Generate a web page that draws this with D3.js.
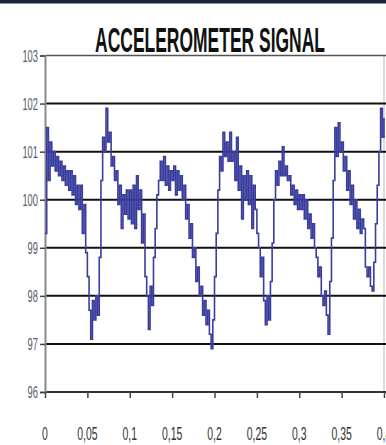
<!DOCTYPE html>
<html>
<head>
<meta charset="utf-8">
<script src="https://cdn.jsdelivr.net/npm/d3@7"></script>
<style>
  html, body { margin: 0; padding: 0; background: #fff; overflow: hidden; }
  svg { display: block; }
</style>
</head>
<body>
<svg id="chart"></svg>
<script>
// accelerometer samples, one every 2 ms from t = 0 to t = 0.4 s
const SAMPLE_DT = 0.002;
const signal = [
  99.3, 101.5, 100.4, 101.2, 100.7, 101.0, 100.6, 100.9, 100.5, 100.8,
  100.4, 100.7, 100.3, 100.6, 100.2, 100.6, 100.1, 100.5, 99.9, 100.3,
  99.8, 100.3, 99.3, 99.9, 98.9, 98.4, 97.7, 97.1, 97.9, 97.5,
  98.0, 97.6, 98.8, 100.4, 101.3, 101.0, 101.9, 101.2, 101.4, 100.7,
  100.9, 100.4, 100.6, 99.9, 100.3, 99.4, 100.1, 99.7, 100.2, 99.6,
  100.2, 99.5, 100.3, 99.4, 100.5, 99.8, 100.2, 99.1, 99.7, 98.4,
  98.0, 97.3, 98.2, 97.8, 98.8, 99.4, 100.1, 100.4, 100.8, 100.4,
  100.9, 100.3, 100.7, 100.2, 100.6, 100.4, 100.7, 100.1, 100.6, 100.2,
  100.5, 100.0, 100.3, 99.6, 99.9, 99.2, 99.5, 98.8, 99.0, 98.3,
  98.6, 98.0, 98.2, 97.6, 97.9, 97.4, 97.7, 97.2, 96.9, 97.5,
  98.4, 99.3, 100.2, 100.9, 100.6, 101.4, 100.9, 101.2, 100.8, 101.4,
  100.8, 101.0, 100.4, 101.3, 100.2, 100.7, 99.6, 100.5, 100.0, 100.6,
  99.9, 100.5, 99.4, 100.3, 99.8, 99.3, 99.0, 98.4, 98.8, 97.9,
  97.4, 98.0, 97.5, 98.3, 99.1, 100.0, 100.6, 100.3, 100.8, 100.5,
  101.1, 100.5, 100.7, 100.4, 100.5, 100.1, 100.3, 99.9, 100.2, 99.8,
  100.1, 99.8, 100.1, 99.6, 100.0, 99.4, 99.7, 99.2, 99.5, 99.0,
  98.8, 98.4, 98.6, 98.0, 97.8, 98.1, 97.6, 97.2, 98.3, 99.2,
  100.4, 101.5, 100.9, 101.6, 101.0, 101.2, 100.6, 100.9, 100.2, 100.6,
  99.9, 100.3, 99.6, 100.0, 99.4, 99.8, 99.3, 99.6, 99.4, 98.6,
  98.4, 98.6, 98.2, 98.1, 98.7, 99.5, 100.3, 101.0, 101.9, 101.3,
  101.7
];
const yTicks = [96, 97, 98, 99, 100, 101, 102, 103];
const xTicks = [0, 0.05, 0.1, 0.15, 0.2, 0.25, 0.3, 0.35, 0.4];
const xTickLabels = ["0", "0,05", "0,1", "0,15", "0,2", "0,25", "0,3", "0,35", "0,4"];
const title = "ACCELEROMETER SIGNAL";

const width = 386, height = 445;
const plot = { left: 45, right: 384, top: 55.5, bottom: 392 };

const svg = d3.select("#chart").attr("width", width).attr("height", height);

// dark strip along the top edge
svg.append("rect")
  .attr("x", 0).attr("y", 0).attr("width", width).attr("height", 3.5)
  .attr("fill", "#1b2338");

const x = d3.scaleLinear().domain([0, 0.4]).range([plot.left, plot.right]);
const y = d3.scaleLinear().domain([96, 103]).range([plot.bottom, plot.top]);

// right border of plot area
svg.append("line")
  .attr("x1", plot.right).attr("x2", plot.right)
  .attr("y1", plot.top).attr("y2", plot.bottom)
  .attr("stroke", "#b8b8b8").attr("stroke-width", 1);

// horizontal gridlines
svg.append("g")
  .selectAll("line")
  .data(yTicks)
  .join("line")
  .attr("x1", plot.left).attr("x2", width)
  .attr("y1", d => y(d)).attr("y2", d => y(d))
  .attr("stroke", d => (d === 103 ? "#555" : d === 96 ? "#333" : "#111"))
  .attr("stroke-width", d => (d === 103 ? 1.6 : 2));

// y axis
const yAxis = svg.append("g")
  .attr("transform", `translate(${plot.left},0)`)
  .call(d3.axisLeft(y).tickValues(yTicks).tickSize(5).tickFormat(""));
yAxis.select(".domain").attr("stroke", "#8a8a8a").attr("stroke-width", 2);
yAxis.selectAll(".tick line").attr("stroke", "#444").attr("stroke-width", 1.5);

svg.append("g")
  .selectAll("text")
  .data(yTicks)
  .join("text")
  .attr("transform", d => `translate(38,${y(d) + 6}) scale(0.55,1)`)
  .attr("text-anchor", "end")
  .attr("font-family", "Liberation Sans, Arial, sans-serif")
  .attr("font-size", 17)
  .attr("fill", "#5a5a6e")
  .text(d => d);

// x axis
const xAxis = svg.append("g")
  .attr("transform", `translate(0,${plot.bottom})`)
  .call(d3.axisBottom(x).tickValues(xTicks).tickSize(6).tickFormat(""));
xAxis.select(".domain").remove();
xAxis.selectAll(".tick line").attr("stroke", "#444").attr("stroke-width", 1.5);

svg.append("g")
  .selectAll("text")
  .data(xTicks)
  .join("text")
  .attr("transform", d => `translate(${x(d)},${440}) scale(0.55,1)`)
  .attr("text-anchor", "middle")
  .attr("font-family", "Liberation Sans, Arial, sans-serif")
  .attr("font-size", 19)
  .attr("fill", "#333")
  .text((d, i) => xTickLabels[i]);

// signal trace
const line = d3.line()
  .x((d, i) => x(i * SAMPLE_DT))
  .y(d => y(d))
  .curve(d3.curveStepAfter);

svg.append("path")
  .datum(signal)
  .attr("fill", "none")
  .attr("stroke", "#3a3d9e")
  .attr("stroke-width", 1.6)
  .attr("stroke-linejoin", "miter")
  .attr("d", line);

// title - condensed by scaling to the width it takes in the original
const titleText = svg.append("text")
  .attr("font-family", "Liberation Sans, Arial, sans-serif")
  .attr("font-weight", "bold")
  .attr("font-size", 36)
  .attr("fill", "#111")
  .attr("text-anchor", "middle")
  .text(title);
const natural = titleText.node().getComputedTextLength();
titleText.attr("transform", `translate(210,52) scale(${230 / natural},1)`);
</script>
</body>
</html>
